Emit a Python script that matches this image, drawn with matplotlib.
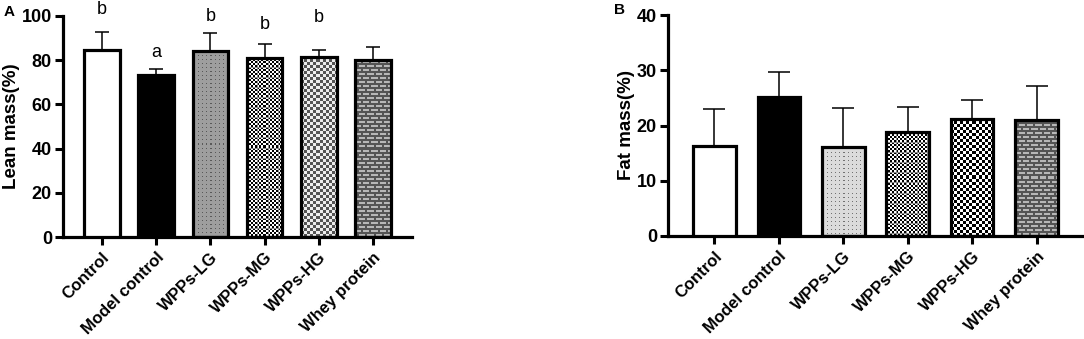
import numpy as np
import matplotlib
matplotlib.use("Agg")
import matplotlib.pyplot as plt

plt.rcParams['font.family'] = ['Liberation Sans', 'DejaVu Sans']

categories = ["Control", "Model control", "WPPs-LG", "WPPs-MG", "WPPs-HG", "Whey protein"]
lean_mean = [84.6, 73.1, 84.3, 81.1, 81.5, 80.0]
lean_err = [8.3, 3.1, 8.1, 6.2, 3.0, 6.0]
lean_letters = ["b", "a", "b", "b", "b", ""]
lean_letter_y = [99.0, 79.5, 95.8, 92.2, 95.5, 0]
fat_mean = [16.2, 25.2, 16.1, 18.8, 21.2, 21.0]
fat_err = [6.8, 4.4, 7.1, 4.5, 3.5, 6.2]

W, H = 1084, 339
fig = plt.figure(figsize=(W / 100, H / 100), dpi=100)


def texture(kind, wpx, hpx, variant):
    wpx = max(int(wpx), 4)
    hpx = max(int(hpx), 4)
    yy, xx = np.mgrid[0:hpx, 0:wpx]
    img = np.ones((hpx, wpx, 3))
    if kind == "dots":
        bg = 0.62 if variant == "A" else 0.86
        img[:] = bg
        m = (yy % 4 == 1) & (xx % 4 == 1)
        img[m] = 0.35 if variant == "A" else 0.45
    elif kind == "fine":
        m = ((xx // 2 + yy // 2) % 2) == 0
        img[:] = 1.0
        img[m] = 0.0
        g = (xx % 10 == 0) | (yy % 10 == 0)
        img[g] = 0.55
    elif kind == "checker":
        m = ((xx // 3 + yy // 3) % 2) == 0
        if variant == "A":
            img[:] = 0.93
            img[m] = 0.33
        else:
            img[:] = 1.0
            img[m] = 0.0
    elif kind == "brick":
        img[:] = 0.33
        row = yy % 4
        off = np.where((yy // 4) % 2 == 0, 0, 4)
        m = (row >= 1) & (row <= 2) & (((xx + off) % 8) < 6)
        img[m] = 0.72
    return img


def draw_panel(ax, means, errs, variant, ymax, yticks, ylabel, capsize):
    x = np.arange(len(categories))
    ax.set_xlim(-0.72, 5.72)
    ax.set_ylim(0, ymax)
    faces = ["white", "black", "none", "none", "none", "none"]
    kinds = [None, None, "dots", "fine", "checker", "brick"]
    ax.errorbar(x, means, yerr=[np.zeros(len(errs)), errs], fmt="none",
                ecolor="black", elinewidth=1.1, capsize=capsize, capthick=1.1, zorder=1)
    bars = ax.bar(x, means, width=0.66, color=faces, edgecolor="black",
                  linewidth=2.3, zorder=3)
    for b, k in zip(bars, kinds):
        if k is None:
            continue
        x0, x1 = b.get_x(), b.get_x() + b.get_width()
        h = b.get_height()
        p0 = ax.transData.transform((x0, 0))
        p1 = ax.transData.transform((x1, h))
        tex = texture(k, abs(p1[0] - p0[0]), abs(p1[1] - p0[1]), variant)
        im = ax.imshow(tex, extent=[x0, x1, 0, h], origin="upper",
                       interpolation="nearest", aspect="auto", zorder=2)
        im.set_clip_path(b)
    ax.set_xlim(-0.72, 5.72)
    ax.set_ylim(0, ymax)
    ax.set_yticks(yticks)
    ax.set_xticks(x)
    ax.set_xticklabels(categories, rotation=45, ha="right", va="top",
                       rotation_mode="anchor", fontsize=12, fontweight="bold")
    for lab in ax.get_yticklabels():
        lab.set_fontweight("bold")
        lab.set_fontsize(13)
    ax.tick_params(axis="both", length=6, width=2.2, direction="out", pad=2)
    ax.tick_params(axis="x", pad=3)
    ax.spines["top"].set_visible(False)
    ax.spines["right"].set_visible(False)
    for s in ("left", "bottom"):
        ax.spines[s].set_linewidth(2.3)
    ax.set_ylabel(ylabel, fontsize=13.5, fontweight="bold", labelpad=1)
    return x


axA = fig.add_axes([63 / W, 1 - 237 / H, (412 - 63) / W, (237 - 16) / H])
xA = draw_panel(axA, lean_mean, lean_err, "A", 100, [0, 20, 40, 60, 80, 100],
                "Lean mass(%)", 5)
for xi, t, ty in zip(xA, lean_letters, lean_letter_y):
    if t:
        axA.text(xi, ty, t, ha="center", va="bottom", fontsize=13)

axB = fig.add_axes([668 / W, 1 - 236 / H, (1083 - 668) / W, (236 - 15) / H])
draw_panel(axB, fat_mean, fat_err, "B", 40, [0, 10, 20, 30, 40], "Fat mass(%)", 8)

fig.text(4 / W, 1 - 12 / H, "A", fontsize=11, fontweight="bold", va="center", ha="left")
fig.text(614 / W, 1 - 10 / H, "B", fontsize=11, fontweight="bold", va="center", ha="left")

fig.savefig("out.png", dpi=100)
